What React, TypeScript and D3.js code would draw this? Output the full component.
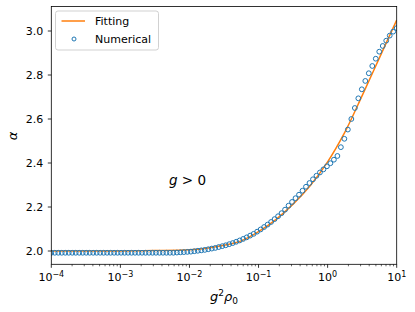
import React from "react";
import * as d3 from "d3";

// fitting curve, read at log10(g^2 rho0) positions
const fitLogX = [-4, -3, -2.5, -2, -1.75, -1.5, -1.25, -1, -0.75, -0.5, -0.25, 0, 0.25, 0.5, 0.75, 1];
const fitAlpha = [2.0, 2.0, 2.002, 2.006, 2.013, 2.026, 2.046, 2.088, 2.143, 2.213, 2.298, 2.405, 2.54, 2.706, 2.878, 3.05];

// numerical points, 100 samples log-spaced from 1e-4 to 1e1
const numAlpha = [
  1.992, 1.992, 1.992, 1.992, 1.992, 1.992, 1.992, 1.992, 1.992, 1.992,
  1.992, 1.992, 1.992, 1.992, 1.992, 1.992, 1.992, 1.992, 1.992, 1.992,
  1.992, 1.992, 1.992, 1.992, 1.992, 1.992, 1.992, 1.992, 1.992, 1.992,
  1.992, 1.992, 1.992, 1.992, 1.992, 1.992, 1.993, 1.994, 1.995, 1.996,
  1.997, 1.999, 2.001, 2.003, 2.005, 2.008, 2.011, 2.014, 2.018, 2.022,
  2.026, 2.031, 2.036, 2.042, 2.048, 2.055, 2.062, 2.07, 2.078, 2.088,
  2.098, 2.109, 2.12, 2.132, 2.145, 2.158, 2.172, 2.188, 2.206, 2.223,
  2.24, 2.256, 2.274, 2.292, 2.309, 2.326, 2.342, 2.357, 2.371, 2.385,
  2.399, 2.415, 2.432, 2.472, 2.51, 2.552, 2.6, 2.65, 2.694, 2.735,
  2.773, 2.808, 2.841, 2.874, 2.906, 2.932, 2.956, 2.979, 2.997, 3.013,
];
const numX = numAlpha.map((_, i) => Math.pow(10, -4 + (5 * i) / 99));

const yTicks = [2.0, 2.2, 2.4, 2.6, 2.8, 3.0];
const xTickExp = [-4, -3, -2, -1, 0, 1];

const W = 415;
const H = 312;
const left = 51.3, right = 396.7, top = 6.5, bottom = 264.3;
const font = "DejaVu Sans, sans-serif";
const orange = "#ff7f0e";
const blue = "#1f77b4";

export default function App() {
  const x = d3.scaleLog().domain([1e-4, 10]).range([left, right]);
  const y = d3.scaleLinear().domain([2, 3]).range([251, 31]);

  const fitLine = d3
    .line<number>()
    .x((e) => x(Math.pow(10, e)))
    .y((e, i) => y(fitAlpha[i]))
    .curve(d3.curveCatmullRom.alpha(0.5));

  const minor: number[] = [];
  for (let d = -4; d < 1; d++) {
    for (let k = 2; k < 10; k++) minor.push(k * Math.pow(10, d));
  }

  return (
    <svg
      width={W}
      height={H}
      style={{ position: "fixed", left: 0, top: 0, background: "#fff" }}
      fontFamily={font}
    >
      <defs>
        <clipPath id="plot">
          <rect x={left} y={top} width={right - left} height={bottom - top} />
        </clipPath>
      </defs>

      <g clipPath="url(#plot)">
        <path d={fitLine(fitLogX) || ""} fill="none" stroke={orange} strokeWidth={1.5} />
        {numX.map((v, i) => (
          <circle key={i} cx={x(v)} cy={y(numAlpha[i])} r={2.4} fill="none" stroke={blue} strokeWidth={1} />
        ))}
      </g>

      {/* frame */}
      <rect x={left} y={top} width={right - left} height={bottom - top} fill="none" stroke="#000" strokeWidth={0.8} />

      {/* y axis */}
      {yTicks.map((t) => (
        <g key={t}>
          <line x1={left - 3.5} x2={left} y1={y(t)} y2={y(t)} stroke="#000" strokeWidth={0.8} />
          <text x={left - 8} y={y(t)} dy="0.36em" textAnchor="end" fontSize={11}>
            {t.toFixed(1)}
          </text>
        </g>
      ))}

      {/* x axis */}
      {minor.map((v, i) => (
        <line key={i} x1={x(v)} x2={x(v)} y1={bottom} y2={bottom + 2} stroke="#000" strokeWidth={0.6} />
      ))}
      {xTickExp.map((e) => (
        <g key={e}>
          <line x1={x(Math.pow(10, e))} x2={x(Math.pow(10, e))} y1={bottom} y2={bottom + 3.5} stroke="#000" strokeWidth={0.8} />
          <text x={x(Math.pow(10, e))} y={281} textAnchor="middle" fontSize={11}>
            10
            <tspan dy={-4.5} fontSize={8}>
              {e < 0 ? "\u2212" + Math.abs(e) : String(e)}
            </tspan>
          </text>
        </g>
      ))}

      {/* axis labels */}
      <text x={224} y={301} textAnchor="middle" fontSize={13}>
        <tspan fontStyle="italic">g</tspan>
        <tspan dy={-5} fontSize={9}>2</tspan>
        <tspan dy={5} fontStyle="italic">ρ</tspan>
        <tspan dy={2.5} fontSize={9}>0</tspan>
      </text>
      <text transform={`translate(17,136) rotate(-90)`} textAnchor="middle" fontSize={13} fontStyle="italic">
        α
      </text>

      <text x={169} y={185} fontSize={13.5}>
        <tspan fontStyle="italic">g</tspan>
        <tspan> &gt; 0</tspan>
      </text>

      {/* legend */}
      <rect x={55.5} y={11} width={103} height={39} rx={2.5} fill="#fff" fillOpacity={0.8} stroke="#cccccc" strokeWidth={0.9} />
      <line x1={61.5} x2={85} y1={21} y2={21} stroke={orange} strokeWidth={1.5} />
      <text x={95} y={25} fontSize={11}>Fitting</text>
      <circle cx={74} cy={39} r={2} fill="none" stroke={blue} strokeWidth={1} />
      <text x={95} y={43} fontSize={11}>Numerical</text>
    </svg>
  );
}
